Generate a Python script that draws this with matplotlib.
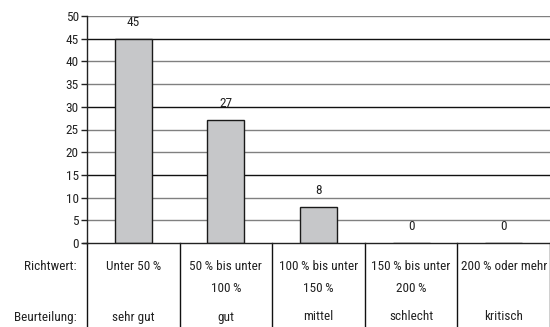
import matplotlib
matplotlib.use("Agg")
import matplotlib.pyplot as plt
from matplotlib.transforms import blended_transform_factory

plt.rcParams['font.family'] = ['Roboto Condensed', 'Liberation Sans', 'DejaVu Sans']

richtwert = ["Unter 50\u2009%", "50\u2009% bis unter\n100\u2009%", "100\u2009% bis unter\n150\u2009%",
             "150\u2009% bis unter\n200\u2009%", "200\u2009% oder mehr"]
beurteilung = ["sehr gut", "gut", "mittel", "schlecht", "kritisch"]
values = [45, 27, 8, 0, 0]
yticks = list(range(0, 51, 5))

FS = 9.5
TC = "#222222"

fig = plt.figure(figsize=(5.5, 3.27), dpi=100)
ax = fig.add_axes([87/550, 1 - 243/327, 1 - 87/550, (243 - 16)/327])

x = list(range(len(values)))
ax.bar(x, values, width=0.4, color="#c6c7c9", edgecolor="#1a1a1a", linewidth=1.0, zorder=3)
for xi, v in zip(x, values):
    ax.text(xi, v + 2.2, str(v), ha="center", va="bottom", fontsize=FS, color=TC)

ax.set_xlim(-0.5, len(values) - 0.5)
ax.set_ylim(0, 50)
ax.set_yticks(yticks)
ax.set_yticklabels([str(t) for t in yticks], fontsize=FS, color=TC)
ax.tick_params(axis="y", length=4, width=1, pad=2, color=TC)
ax.set_xticks([])
for t in yticks[1:]:
    c = "#111111" if t % 15 == 0 else "#808080"
    ax.axhline(t, color=c, linewidth=1.0, zorder=1)

for s in ["top", "right"]:
    ax.spines[s].set_visible(False)
for s in ["left", "bottom"]:
    ax.spines[s].set_color(TC)
    ax.spines[s].set_linewidth(1)
    ax.spines[s].set_zorder(4)

trans = blended_transform_factory(ax.transData, fig.transFigure)
y0 = 1 - 243/327
for b in [i - 0.5 for i in range(len(values) + 1)]:
    ax.plot([b, b], [0, y0], transform=trans, color="#111111", linewidth=1, clip_on=False)
ax.plot([-0.5 - 0.04, -0.5], [y0, y0], transform=trans, color=TC, linewidth=1, clip_on=False)

row1 = 1 - 267/327
line2 = 1 - 289/327
row2 = 1 - 317/327
for xi, (r, bt) in enumerate(zip(richtwert, beurteilung)):
    lines = r.split("\n")
    ax.text(xi, row1, lines[0], transform=trans, ha="center", va="center", fontsize=FS, color=TC)
    if len(lines) > 1:
        ax.text(xi, line2, lines[1], transform=trans, ha="center", va="center", fontsize=FS, color=TC)
    ax.text(xi, row2, bt, transform=trans, ha="center", va="center", fontsize=FS, color=TC)

fig.text(77/550, row1, "Richtwert:", ha="right", va="center", fontsize=FS, color=TC)
fig.text(77/550, row2, "Beurteilung:", ha="right", va="center", fontsize=FS, color=TC)

fig.savefig("out.png", dpi=100)
